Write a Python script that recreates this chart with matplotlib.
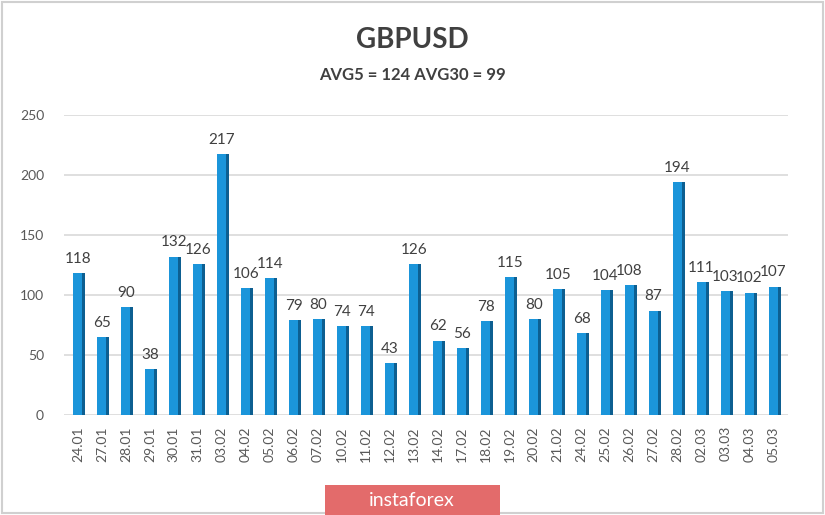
import matplotlib
matplotlib.use('Agg')
import matplotlib.pyplot as plt
from matplotlib.patches import Rectangle

dates = ['24.01', '27.01', '28.01', '29.01', '30.01', '31.01', '03.02', '04.02', '05.02', '06.02',
         '07.02', '10.02', '11.02', '12.02', '13.02', '14.02', '17.02', '18.02', '19.02', '20.02',
         '21.02', '24.02', '25.02', '26.02', '27.02', '28.02', '02.03', '03.03', '04.03', '05.03']
values = [118, 65, 90, 38, 132, 126, 217, 106, 114, 79,
          80, 74, 74, 43, 126, 62, 56, 78, 115, 80,
          105, 68, 104, 108, 87, 194, 111, 103, 102, 107]
yticks = [0, 50, 100, 150, 200, 250]

plt.rcParams['font.family'] = ['Lato', 'DejaVu Sans']

fig = plt.figure(figsize=(8.25, 5.15), dpi=100)
ax = fig.add_axes([0.077, 0.194, 0.878, 0.583])

x = list(range(len(values)))
# front face + darker side face for the 3d look
ax.bar(x, values, width=0.4, color='#1b95da', zorder=3)
ax.bar([i + 0.25 for i in x], values, width=0.12, color='#0d5f91', zorder=3)

for i, v in zip(x, values):
    ax.text(i, v + 6, str(v), ha='center', va='bottom', fontsize=11, color='#404040')

ax.set_xlim(-0.6, 29.6)
ax.set_ylim(0, 250)
ax.set_yticks(yticks)
ax.set_xticks(x)
ax.set_xticklabels(dates, rotation=90, fontsize=10, color='#595959')
ax.tick_params(axis='y', labelsize=10, labelcolor='#595959', length=0, pad=14)
ax.tick_params(axis='x', length=0, pad=8)
ax.grid(axis='y', color='#d9d9d9', linewidth=1.2, zorder=0)
for s in ax.spines.values():
    s.set_visible(False)

fig.text(0.5, 0.922, 'GBPUSD', ha='center', va='center', fontsize=20, fontweight='bold', color='#404040')
fig.text(0.5, 0.855, 'AVG5 = 124 AVG30 = 99', ha='center', va='center', fontsize=12, fontweight='bold', color='#404040')

# outer frame
fig.patches.append(Rectangle((0.002, 0.003), 0.996, 0.994, transform=fig.transFigure,
                             fill=False, edgecolor='#d0d0d0', linewidth=1.5))

# watermark
fig.patches.append(Rectangle((325 / 825, 0.0), 175 / 825, 30 / 515, transform=fig.transFigure,
                             facecolor='#e36b6b', edgecolor='none'))
fig.text(412 / 825, 15 / 515, 'instaforex', ha='center', va='center', fontsize=14, color='white')

plt.savefig('out.png', dpi=100)
plt.close()
